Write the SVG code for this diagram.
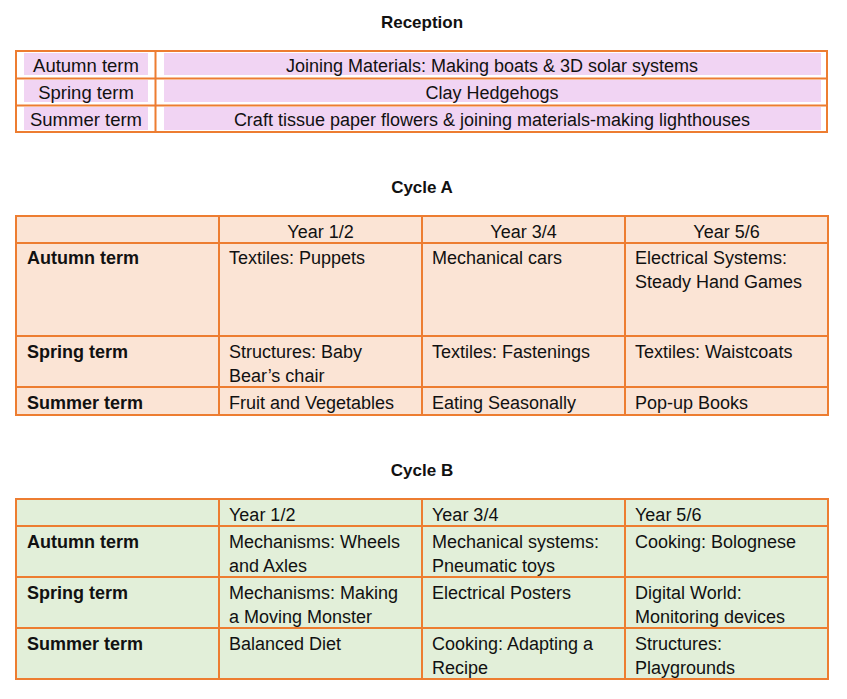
<svg xmlns="http://www.w3.org/2000/svg" width="847" height="699" viewBox="0 0 847 699">
<style>
text{font-family:"Liberation Sans",Arial,sans-serif;font-size:18px;fill:#111}
.t{font-weight:bold;font-size:17px;text-anchor:middle}
.b{font-weight:bold}
.c{text-anchor:middle}
.r{font-size:18.5px;text-anchor:middle}
.ln{stroke:#ED7D31;stroke-width:2;fill:none}
</style>
<rect width="847" height="699" fill="#fff"/>
<g id="reception">
<text class="t" x="422" y="28">Reception</text>
<g fill="#F1D4F3">
<rect x="24" y="53" width="124" height="22"/>
<rect x="164" y="53" width="657" height="22"/>
<rect x="24" y="80" width="124" height="22"/>
<rect x="164" y="80" width="657" height="22"/>
<rect x="24" y="107" width="124" height="23"/>
<rect x="164" y="107" width="657" height="23"/>
</g>
<rect class="ln" x="16" y="51" width="811" height="81"/>
<path class="ln" d="M16 78.5H827M16 105.5H827M155.5 51V132"/>
<text class="r" x="86" y="71.5">Autumn term</text>
<text class="c" x="492" y="71.5">Joining Materials: Making boats &amp; 3D solar systems</text>
<text class="r" x="86" y="98.5">Spring term</text>
<text class="c" x="492" y="98.5">Clay Hedgehogs</text>
<text class="r" x="86" y="126">Summer term</text>
<text class="c" x="492" y="126">Craft tissue paper flowers &amp; joining materials-making lighthouses</text>
</g>
<g id="cycleA">
<text class="t" x="422" y="193">Cycle A</text>
<rect x="16" y="216" width="812" height="199" fill="#FBE4D5"/>
<rect class="ln" x="16" y="216" width="812" height="199"/>
<path class="ln" d="M16 243H828M16 336H828M16 387H828M219 216V415M422 216V415M625 216V415"/>
<text class="c" x="320.5" y="237.5">Year 1/2</text>
<text class="c" x="523.5" y="237.5">Year 3/4</text>
<text class="c" x="726.5" y="237.5">Year 5/6</text>
<text class="b" x="27" y="263.5">Autumn term</text>
<text x="229" y="263.5">Textiles: Puppets</text>
<text x="432" y="263.5">Mechanical cars</text>
<text x="635" y="263.5">Electrical Systems:</text>
<text x="635" y="288">Steady Hand Games</text>
<text class="b" x="27" y="357.5">Spring term</text>
<text x="229" y="357.5">Structures: Baby</text>
<text x="229" y="382">Bear’s chair</text>
<text x="432" y="357.5">Textiles: Fastenings</text>
<text x="635" y="357.5">Textiles: Waistcoats</text>
<text class="b" x="27" y="408.5">Summer term</text>
<text x="229" y="408.5">Fruit and Vegetables</text>
<text x="432" y="408.5">Eating Seasonally</text>
<text x="635" y="408.5">Pop-up Books</text>
</g>
<g id="cycleB">
<text class="t" x="422" y="476">Cycle B</text>
<rect x="16" y="499" width="812" height="180" fill="#E2EFD9"/>
<rect class="ln" x="16" y="499" width="812" height="180"/>
<path class="ln" d="M16 526H828M16 577H828M16 628H828M219 499V679M422 499V679M625 499V679"/>
<text x="229" y="520.5">Year 1/2</text>
<text x="432" y="520.5">Year 3/4</text>
<text x="635" y="520.5">Year 5/6</text>
<text class="b" x="27" y="547.5">Autumn term</text>
<text x="229" y="547.5">Mechanisms: Wheels</text>
<text x="229" y="571.5">and Axles</text>
<text x="432" y="547.5">Mechanical systems:</text>
<text x="432" y="571.5">Pneumatic toys</text>
<text x="635" y="547.5">Cooking: Bolognese</text>
<text class="b" x="27" y="598.5">Spring term</text>
<text x="229" y="598.5">Mechanisms: Making</text>
<text x="229" y="622.5">a Moving Monster</text>
<text x="432" y="598.5">Electrical Posters</text>
<text x="635" y="598.5">Digital World:</text>
<text x="635" y="622.5">Monitoring devices</text>
<text class="b" x="27" y="649.5">Summer term</text>
<text x="229" y="649.5">Balanced Diet</text>
<text x="432" y="649.5">Cooking: Adapting a</text>
<text x="432" y="673.5">Recipe</text>
<text x="635" y="649.5">Structures:</text>
<text x="635" y="673.5">Playgrounds</text>
</g>
</svg>
